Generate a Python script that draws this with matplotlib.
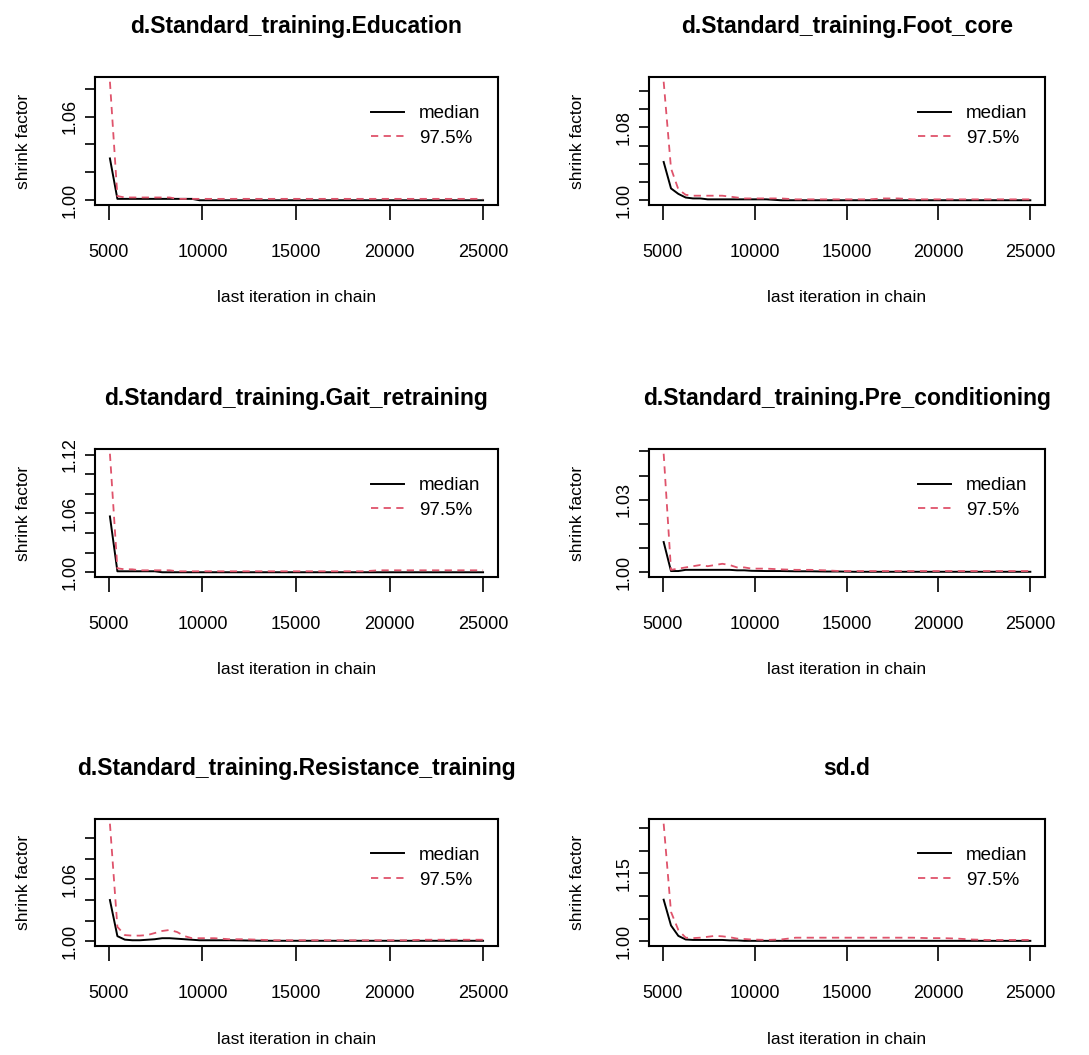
import matplotlib
matplotlib.use("Agg")
import matplotlib.pyplot as plt

plt.rcParams['font.family'] = ['Liberation Sans', 'DejaVu Sans']

# iteration at which each shrink factor was computed (last iteration in chain)
ITER = [5051, 5450, 5849, 6248, 6647, 7046, 7445, 7844, 8243, 8642, 9041, 9440,
        9839, 10637, 11435, 12233, 13031, 13829, 14627, 15425, 16223, 17021,
        17819, 18617, 19415, 20213, 21011, 21809, 22607, 23405, 24203, 25000]

TITLES = [
    'd.Standard_training.Education',
    'd.Standard_training.Foot_core',
    'd.Standard_training.Gait_retraining',
    'd.Standard_training.Pre_conditioning',
    'd.Standard_training.Resistance_training',
    'sd.d',
]

# median shrink factor per parameter
median_edu = [1.030, 1.001, 1.001, 1.001, 1.001, 1.001, 1.001, 1.001, 1.001, 1.001, 1.001, 1.001,
              1.000, 1.000, 1.000, 1.000, 1.000, 1.000, 1.000, 1.000, 1.000, 1.000,
              1.000, 1.000, 1.000, 1.000, 1.000, 1.000, 1.000, 1.000, 1.000, 1.000]
median_foot = [1.042, 1.013, 1.007, 1.003, 1.002, 1.002, 1.001, 1.001, 1.001, 1.001, 1.001, 1.001,
               1.001, 1.001, 1.000, 1.000, 1.000, 1.000, 1.000, 1.000, 1.000, 1.000,
               1.000, 1.000, 1.000, 1.000, 1.000, 1.000, 1.000, 1.000, 1.000, 1.000]
median_gait = [1.057, 1.001, 1.001, 1.001, 1.001, 1.001, 1.001, 1.000, 1.000, 1.000, 1.000, 1.000,
               1.000, 1.000, 1.000, 1.000, 1.000, 1.000, 1.000, 1.000, 1.000, 1.000,
               1.000, 1.000, 1.000, 1.000, 1.000, 1.000, 1.000, 1.000, 1.000, 1.000]
median_pre = [1.0125, 1.0005, 1.0005, 1.001, 1.001, 1.001, 1.001, 1.001, 1.001, 1.001, 1.0008, 1.0008,
              1.0006, 1.0005, 1.0005, 1.0004, 1.0004, 1.0003, 1.0003, 1.0002, 1.0002, 1.0002,
              1.0002, 1.0002, 1.0002, 1.0002, 1.0002, 1.0002, 1.0002, 1.0002, 1.0002, 1.0002]
median_res = [1.040, 1.005, 1.0016, 1.001, 1.001, 1.0015, 1.002, 1.003, 1.003, 1.0025, 1.002, 1.0015,
              1.001, 1.001, 1.001, 1.0008, 1.0006, 1.0005, 1.0005, 1.0005, 1.0005, 1.0005,
              1.0005, 1.0005, 1.0005, 1.0005, 1.0005, 1.0005, 1.0005, 1.0005, 1.0005, 1.0005]
median_sd = [1.092, 1.035, 1.012, 1.004, 1.003, 1.003, 1.003, 1.003, 1.003, 1.002, 1.002, 1.001,
             1.001, 1.001, 1.001, 1.001, 1.001, 1.001, 1.001, 1.001, 1.001, 1.001,
             1.001, 1.001, 1.001, 1.001, 1.001, 1.001, 1.001, 1.001, 1.001, 1.001]

# 97.5% upper confidence limit per parameter
upper_edu = [1.085, 1.003, 1.002, 1.002, 1.002, 1.002, 1.002, 1.002, 1.002, 1.001, 1.001, 1.001,
             1.001, 1.001, 1.001, 1.001, 1.001, 1.001, 1.001, 1.001, 1.001, 1.001,
             1.001, 1.001, 1.001, 1.001, 1.001, 1.001, 1.001, 1.001, 1.001, 1.001]
upper_foot = [1.130, 1.035, 1.012, 1.006, 1.005, 1.005, 1.005, 1.005, 1.005, 1.004, 1.003, 1.002,
              1.002, 1.002, 1.002, 1.001, 1.001, 1.001, 1.001, 1.001, 1.001, 1.002,
              1.002, 1.001, 1.001, 1.001, 1.001, 1.001, 1.001, 1.001, 1.001, 1.001]
upper_gait = [1.121, 1.004, 1.003, 1.003, 1.002, 1.002, 1.002, 1.002, 1.002, 1.001, 1.001, 1.001,
              1.001, 1.001, 1.001, 1.001, 1.001, 1.001, 1.001, 1.001, 1.001, 1.001,
              1.001, 1.001, 1.002, 1.002, 1.002, 1.002, 1.002, 1.002, 1.002, 1.002]
upper_pre = [1.049, 1.001, 1.0015, 1.002, 1.0025, 1.003, 1.0025, 1.003, 1.0035, 1.003, 1.002, 1.002,
             1.0015, 1.0015, 1.0012, 1.001, 1.001, 1.0008, 1.0005, 1.0005, 1.0005, 1.0005,
             1.0005, 1.0005, 1.0005, 1.0005, 1.0005, 1.0005, 1.0005, 1.0005, 1.0005, 1.0005]
upper_res = [1.114, 1.014, 1.006, 1.0055, 1.0055, 1.006, 1.008, 1.010, 1.011, 1.009, 1.005, 1.003,
             1.003, 1.003, 1.002, 1.002, 1.0015, 1.001, 1.001, 1.001, 1.001, 1.001,
             1.001, 1.001, 1.001, 1.001, 1.001, 1.0015, 1.0015, 1.0015, 1.0015, 1.0015]
upper_sd = [1.260, 1.065, 1.025, 1.008, 1.007, 1.008, 1.010, 1.012, 1.011, 1.009, 1.006, 1.005,
            1.004, 1.003, 1.004, 1.008, 1.008, 1.008, 1.008, 1.008, 1.008, 1.008,
            1.008, 1.008, 1.007, 1.007, 1.006, 1.004, 1.003, 1.003, 1.003, 1.003]

MEDIANS = [median_edu, median_foot, median_gait, median_pre, median_res, median_sd]
UPPERS = [upper_edu, upper_foot, upper_gait, upper_pre, upper_res, upper_sd]

# y ticks and which of them R printed a label for
Y_TICKS = [
    [1.00, 1.02, 1.04, 1.06, 1.08],
    [1.00, 1.02, 1.04, 1.06, 1.08, 1.10, 1.12],
    [1.00, 1.02, 1.04, 1.06, 1.08, 1.10, 1.12],
    [1.00, 1.01, 1.02, 1.03, 1.04, 1.05],
    [1.00, 1.02, 1.04, 1.06, 1.08, 1.10],
    [1.00, 1.05, 1.10, 1.15, 1.20, 1.25],
]
Y_LABELS = [
    ['1.00', '', '', '1.06', ''],
    ['1.00', '', '', '', '1.08', '', ''],
    ['1.00', '', '', '1.06', '', '', '1.12'],
    ['1.00', '', '', '1.03', '', ''],
    ['1.00', '', '', '1.06', '', ''],
    ['1.00', '', '', '1.15', '', ''],
]
X_TICKS = [5000, 10000, 15000, 20000, 25000]

RED = '#DF536B'
W, H = 1089, 1055

fig = plt.figure(figsize=(W / 100, H / 100), dpi=100)

# plot boxes in pixels: (left, top, width, height)
col_left = [95, 649]
col_width = [403, 396]
row_top = [77, 449, 819]
row_height = [128, 128, 127]

for i in range(6):
    r, c = divmod(i, 2)
    l, t, w, h = col_left[c], row_top[r], col_width[c], row_height[r]
    ax = fig.add_axes([l / W, (H - t - h) / H, w / W, h / H])

    ax.plot(ITER, MEDIANS[i], color='black', lw=1.4, label='median')
    ax.plot(ITER, UPPERS[i], color=RED, lw=1.3, ls=(0, (4, 3)), label='97.5%')

    # R style 4% axis expansion
    xr = ITER[-1] - ITER[0]
    ax.set_xlim(ITER[0] - 0.04 * xr, ITER[-1] + 0.04 * xr)
    ymax = UPPERS[i][0]
    yr = ymax - 1
    ax.set_ylim(1 - 0.04 * yr, ymax + 0.04 * yr)

    ax.set_xticks(X_TICKS)
    ax.set_xticklabels([str(v) for v in X_TICKS], fontsize=13)
    ax.set_yticks(Y_TICKS[i])
    ax.set_yticklabels(Y_LABELS[i], rotation=90, va='center', fontsize=13)
    ax.tick_params(axis='x', length=11, width=1.2, pad=17)
    ax.tick_params(axis='y', length=7, width=1.2, pad=5)
    for s in ax.spines.values():
        s.set_linewidth(1.5)

    ax.set_title(TITLES[i], fontsize=16.5, fontweight='bold', pad=32)
    ax.set_xlabel('last iteration in chain', fontsize=12.5)
    ax.xaxis.set_label_coords(0.5, -93 / h)
    ax.xaxis.label.set_va('center')
    ax.set_ylabel('shrink factor', fontsize=12.5)
    ax.yaxis.set_label_coords(-71 / w, 0.5)
    ax.yaxis.label.set_va('center')

    ax.legend(loc='upper right', bbox_to_anchor=(0.975, 0.84), frameon=False,
              fontsize=13.5, handlelength=1.75, handletextpad=0.8, labelspacing=0.4,
              borderaxespad=0)

fig.savefig('out.png', dpi=100)
